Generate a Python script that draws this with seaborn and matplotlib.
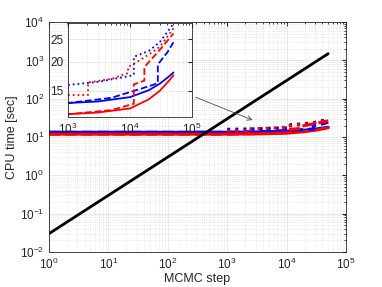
# CPU time vs MCMC step, log-log with zoomed inset

import numpy as np
import pandas as pd
import matplotlib
matplotlib.use("Agg")
import matplotlib.pyplot as plt
import seaborn as sns

# reference line (black)
ref_x = [1, 5e4]
ref_y = [0.03, 1500]

# blue / red runs
blue_solid_x = [1, 1e3, 3e3, 1e4, 2e4, 3e4, 4e4, 5e4]
blue_solid_y = [13.3, 13.3, 13.5, 14.1, 15.1, 16.1, 17.1, 18.0]
red_solid_x = [1, 1e3, 3e3, 1e4, 2e4, 3e4, 4e4, 5e4]
red_solid_y = [11.9, 11.9, 12.1, 12.6, 13.8, 15.0, 16.3, 17.5]

blue_dash_x = [1, 1e3, 5e3, 1.15e4, 2e4, 2.8e4, 2.8e4, 4e4, 5e4]
blue_dash_y = [13.3, 13.3, 14.0, 15.0, 15.7, 16.2, 19.5, 22.0, 24.3]
red_dash_x = [1, 1e3, 5e3, 1.15e4, 1.15e4, 1.7e4, 1.7e4, 3e4, 5e4]
red_dash_y = [11.9, 11.9, 12.4, 13.2, 16.0, 16.6, 19.0, 22.5, 26.5]

blue_dot_x = [1e3, 3e3, 1e4, 1.15e4, 1.15e4, 2e4, 3e4, 5e4]
blue_dot_y = [15.9, 16.4, 17.4, 17.6, 21.0, 22.3, 24.3, 29.2]
red_dot_x = [1e3, 2.1e3, 2.1e3, 5e3, 9.3e3, 9.3e3, 1.15e4, 2e4, 3e4, 5e4]
red_dot_y = [14.4, 14.4, 16.3, 16.9, 17.9, 19.0, 19.6, 21.5, 23.2, 27.9]

series = [
    (blue_solid_x, blue_solid_y, 'blue', '-'),
    (red_solid_x, red_solid_y, 'red', '-'),
    (blue_dash_x, blue_dash_y, 'blue', '--'),
    (red_dash_x, red_dash_y, 'red', '--'),
    (blue_dot_x, blue_dot_y, 'blue', ':'),
    (red_dot_x, red_dot_y, 'red', ':'),
]

sns.set_style("white")
plt.rcParams['font.family'] = ['Liberation Sans', 'DejaVu Sans']
plt.rcParams['mathtext.default'] = 'regular'
plt.rcParams['font.size'] = 8.5


def style_axes(ax):
    ax.tick_params(which='both', direction='in', top=True, right=True,
                   colors='0.15', labelsize=8.5)
    ax.tick_params(which='major', length=3)
    ax.tick_params(which='minor', length=1.5)
    ax.grid(True, which='major', color='0.88', lw=0.5)
    ax.grid(True, which='minor', color='0.85', lw=0.5, ls=':')
    for s in ax.spines.values():
        s.set_color('0.15')
        s.set_linewidth(0.6)


fig = plt.figure(figsize=(3.82, 2.87), dpi=100)
ax = fig.add_axes([0.128, 0.122, 0.778, 0.801])

for xs, ys, c, ls in series:
    df = pd.DataFrame({'x': xs, 'y': ys})
    sns.lineplot(data=df, x='x', y='y', ax=ax, color=c, linestyle=ls,
                 lw=2.2, estimator=None, sort=False)
df = pd.DataFrame({'x': ref_x, 'y': ref_y})
sns.lineplot(data=df, x='x', y='y', ax=ax, color='black', lw=2,
             estimator=None, sort=False)

ax.set_xscale('log')
ax.set_yscale('log')
ax.set_xlim(1, 1e5)
ax.set_ylim(1e-2, 1e4)
ax.set_xticks([1, 10, 100, 1e3, 1e4, 1e5])
ax.set_yticks([1e-2, 1e-1, 1, 10, 100, 1e3, 1e4])
ax.set_xlabel('MCMC step', color='0.15', fontsize=9, labelpad=1)
ax.set_ylabel('CPU time [sec]', color='0.15', fontsize=9, labelpad=1)
style_axes(ax)

ax.annotate('', xy=(2950, 26), xytext=(265, 117),
            arrowprops=dict(arrowstyle='->', color='0.3', lw=0.6))

# inset
axin = fig.add_axes([0.178, 0.593, 0.325, 0.328])
axin.set_facecolor('white')
for xs, ys, c, ls in series:
    df = pd.DataFrame({'x': xs, 'y': ys})
    sns.lineplot(data=df, x='x', y='y', ax=axin, color=c, linestyle=ls,
                 lw=1.3, estimator=None, sort=False)
axin.set_xscale('log')
axin.set_yscale('log')
axin.set_xlim(1e3, 1e5)
axin.set_ylim(11.6, 29.5)
axin.set_xticks([1e3, 1e4, 1e5])
axin.set_yticks([15, 20, 25])
axin.set_yticklabels(['15', '20', '25'])
axin.yaxis.set_minor_locator(matplotlib.ticker.NullLocator())
axin.set_xlabel('')
axin.set_ylabel('')
style_axes(axin)

fig.savefig('out.png', dpi=100)
